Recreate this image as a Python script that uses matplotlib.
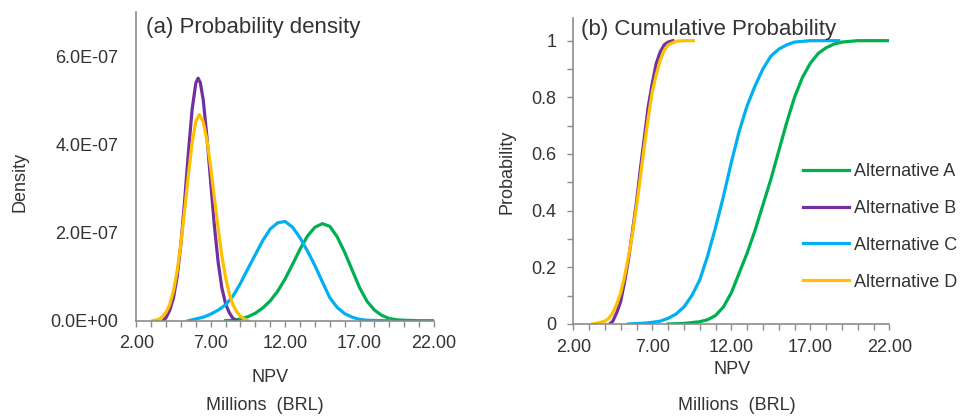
import numpy as np
import matplotlib
matplotlib.use("Agg")
import matplotlib.pyplot as plt
from matplotlib.ticker import FixedLocator, FuncFormatter, MultipleLocator

plt.rcParams['font.family'] = ['Liberation Sans', 'DejaVu Sans']

# ---- data: NPV in millions of BRL ----
series_names = ["Alternative A", "Alternative B", "Alternative C", "Alternative D"]
series_colors = ["#00B050", "#7030A0", "#00B0F0", "#FFC000"]

# Probability density (values in units of 1e-7 per BRL)
dens_a_x = [8.0, 8.5, 9.0, 9.5, 10.0, 10.5, 11.0, 11.5, 12.0, 12.5, 13.0, 13.5, 14.0,
            14.5, 15.0, 15.5, 16.0, 16.5, 17.0, 17.5, 18.0, 18.5, 19.0, 19.5, 20.0, 21.0, 22.0]
dens_a_y = [0.0, 0.01, 0.04, 0.09, 0.17, 0.29, 0.45, 0.67, 0.95, 1.28, 1.62, 1.92, 2.12,
            2.20, 2.14, 1.90, 1.55, 1.15, 0.75, 0.44, 0.24, 0.12, 0.05, 0.02, 0.01, 0.0, 0.0]

dens_b_x = [3.8, 4.0, 4.25, 4.5, 4.75, 5.0, 5.25, 5.5, 5.75, 6.0, 6.15, 6.3, 6.5,
            6.75, 7.0, 7.25, 7.5, 7.75, 8.0, 8.25, 8.5, 8.75]
dens_b_y = [0.0, 0.07, 0.24, 0.52, 1.01, 1.75, 2.73, 3.82, 4.79, 5.39, 5.50, 5.40, 5.00,
            4.15, 3.13, 2.14, 1.32, 0.74, 0.38, 0.18, 0.05, 0.0]

dens_c_x = [5.5, 6.0, 6.5, 7.0, 7.5, 8.0, 8.5, 9.0, 9.5, 10.0, 10.5, 11.0, 11.5, 12.0,
            12.5, 13.0, 13.5, 14.0, 14.5, 15.0, 15.5, 16.0, 16.5, 17.0, 17.5, 18.0, 19.0]
dens_c_y = [0.0, 0.04, 0.08, 0.15, 0.24, 0.36, 0.56, 0.85, 1.18, 1.50, 1.82, 2.08, 2.22, 2.25,
            2.12, 1.88, 1.58, 1.25, 0.88, 0.52, 0.30, 0.16, 0.08, 0.03, 0.01, 0.005, 0.0]

dens_d_x = [3.1, 3.5, 3.75, 4.0, 4.25, 4.5, 4.75, 5.0, 5.25, 5.5, 5.75, 6.0, 6.23, 6.5,
            6.75, 7.0, 7.25, 7.5, 7.75, 8.0, 8.25, 8.5, 8.75, 9.0, 9.25, 9.5]
dens_d_y = [0.0, 0.03, 0.09, 0.19, 0.37, 0.68, 1.14, 1.76, 2.51, 3.31, 4.03, 4.52, 4.675, 4.51,
            4.09, 3.47, 2.78, 2.09, 1.47, 0.98, 0.61, 0.36, 0.20, 0.10, 0.04, 0.0]

# Cumulative probability
cdf_a_x = [8.0, 9.0, 10.0, 10.5, 11.0, 11.5, 12.0, 12.5, 13.0, 13.5, 14.0, 14.5, 15.0,
           15.5, 16.0, 16.5, 17.0, 17.5, 18.0, 18.5, 19.0, 20.0, 22.0]
cdf_a_y = [0.0, 0.002, 0.008, 0.015, 0.03, 0.06, 0.11, 0.18, 0.25, 0.33, 0.42, 0.51, 0.61,
           0.71, 0.80, 0.87, 0.92, 0.955, 0.975, 0.988, 0.995, 1.0, 1.0]

cdf_b_x = [4.3, 4.5, 4.75, 5.0, 5.25, 5.5, 5.75, 6.0, 6.25, 6.5, 6.75, 7.0, 7.25, 7.5,
           7.75, 8.0, 8.3]
cdf_b_y = [0.0, 0.01, 0.04, 0.08, 0.15, 0.23, 0.33, 0.43, 0.55, 0.66, 0.77, 0.85, 0.92, 0.96,
           0.985, 0.995, 1.0]

cdf_c_x = [5.5, 6.5, 7.0, 7.5, 8.0, 8.5, 9.0, 9.5, 10.0, 10.5, 11.0, 11.5, 12.0, 12.5,
           13.0, 13.5, 14.0, 14.5, 15.0, 15.5, 16.0, 17.0, 18.8]
cdf_c_y = [0.0, 0.003, 0.006, 0.01, 0.02, 0.035, 0.06, 0.10, 0.155, 0.24, 0.34, 0.45, 0.57, 0.68,
           0.77, 0.84, 0.90, 0.945, 0.97, 0.985, 0.995, 1.0, 1.0]

cdf_d_x = [3.2, 3.5, 4.0, 4.25, 4.5, 4.75, 5.0, 5.25, 5.5, 5.75, 6.0, 6.25, 6.5, 6.75,
           7.0, 7.25, 7.5, 7.75, 8.0, 8.5, 9.0, 9.6]
cdf_d_y = [0.0, 0.003, 0.01, 0.02, 0.04, 0.07, 0.11, 0.17, 0.24, 0.32, 0.415, 0.52, 0.63, 0.73,
           0.82, 0.88, 0.93, 0.965, 0.985, 0.998, 1.0, 1.0]

x_major = [2, 7, 12, 17, 22]
density_ticks = [0.0, 2e-7, 4e-7, 6e-7]
prob_ticks = [0, 0.2, 0.4, 0.6, 0.8, 1.0]

density_x = [dens_a_x, dens_b_x, dens_c_x, dens_d_x]
density_y = [dens_a_y, dens_b_y, dens_c_y, dens_d_y]
cdf_x = [cdf_a_x, cdf_b_x, cdf_c_x, cdf_d_x]
cdf_y = [cdf_a_y, cdf_b_y, cdf_c_y, cdf_d_y]

# ---- figure ----
W, H = 960, 416
fig = plt.figure(figsize=(W / 100, H / 100), dpi=100)

def px_axes(left, top, right, bottom):
    return fig.add_axes([left / W, 1 - bottom / H, (right - left) / W, (bottom - top) / H])

ax1 = px_axes(136.3, 12, 434, 320.7)
ax2 = px_axes(573.3, 18, 889.3, 324)

text_color = "#333333"
axis_color = "#8c8c8c"
fs = 13
lw = 2.3

for ax, xpad in ((ax1, 6), (ax2, 7)):
    for side in ("top", "right"):
        ax.spines[side].set_visible(False)
    for side in ("left", "bottom"):
        ax.spines[side].set_color(axis_color)
        ax.spines[side].set_linewidth(1.2)
    ax.set_xlim(2, 22)
    ax.xaxis.set_major_locator(FixedLocator(x_major))
    ax.xaxis.set_minor_locator(MultipleLocator(1))
    ax.xaxis.set_major_formatter(FuncFormatter(lambda v, p: f"{v:.2f}"))
    ax.tick_params(axis="x", which="both", direction="out", length=4, width=1,
                   color=axis_color, labelsize=fs, labelcolor=text_color, pad=xpad)

# (a) probability density
for xs, ys, c in zip(density_x, density_y, series_colors):
    ax1.plot(xs, np.array(ys) * 1e-7, color=c, lw=lw, solid_joinstyle="round")
ax1.set_ylim(0, 7.0e-7)
ax1.yaxis.set_major_locator(FixedLocator(density_ticks))
ax1.yaxis.set_major_formatter(FuncFormatter(lambda v, p: f"{v:.1E}"))
ax1.tick_params(axis="y", which="both", length=0, labelsize=fs, labelcolor=text_color, pad=13)

# (b) cumulative probability
lines = []
for xs, ys, c, name in zip(cdf_x, cdf_y, series_colors, series_names):
    ln, = ax2.plot(xs, ys, color=c, lw=lw, label=name, solid_joinstyle="round")
    lines.append(ln)
ax2.set_ylim(0, 1.08)
ax2.yaxis.set_major_locator(FixedLocator(prob_ticks))
ax2.yaxis.set_minor_locator(MultipleLocator(0.1))
ax2.yaxis.set_major_formatter(FuncFormatter(lambda v, p: f"{v:g}"))
ax2.tick_params(axis="y", which="both", direction="out", length=4, width=1,
                color=axis_color, labelsize=fs, labelcolor=text_color, pad=8)

# panel titles
fig.text(146 / W, 1 - 28 / H, "(a) Probability density", fontsize=16,
         color=text_color, va="center", ha="left")
fig.text(581 / W, 1 - 29 / H, "(b) Cumulative Probability", fontsize=16,
         color=text_color, va="center", ha="left")

# axis labels
fig.text(20 / W, 1 - 182 / H, "Density", fontsize=fs, color=text_color,
         rotation=90, ha="center", va="center")
fig.text(270 / W, 1 - 377 / H, "NPV", fontsize=fs, color=text_color, ha="center", va="center")
fig.text(265 / W, 1 - 405 / H, "Millions  (BRL)", fontsize=fs, color=text_color,
         ha="center", va="center")
fig.text(507 / W, 1 - 172 / H, "Probability", fontsize=fs, color=text_color,
         rotation=90, ha="center", va="center")
fig.text(732 / W, 1 - 370 / H, "NPV", fontsize=fs, color=text_color, ha="center", va="center")
fig.text(737 / W, 1 - 406 / H, "Millions  (BRL)", fontsize=fs, color=text_color,
         ha="center", va="center")

# legend
fig.legend(handles=lines, loc="upper left", bbox_to_anchor=(803 / W, 1 - 163 / H),
           bbox_transform=fig.transFigure, frameon=False, fontsize=fs,
           handlelength=2.55, handletextpad=0.29, labelspacing=1.1,
           borderpad=0, borderaxespad=0, labelcolor=text_color)

fig.savefig("out.png", dpi=100)
